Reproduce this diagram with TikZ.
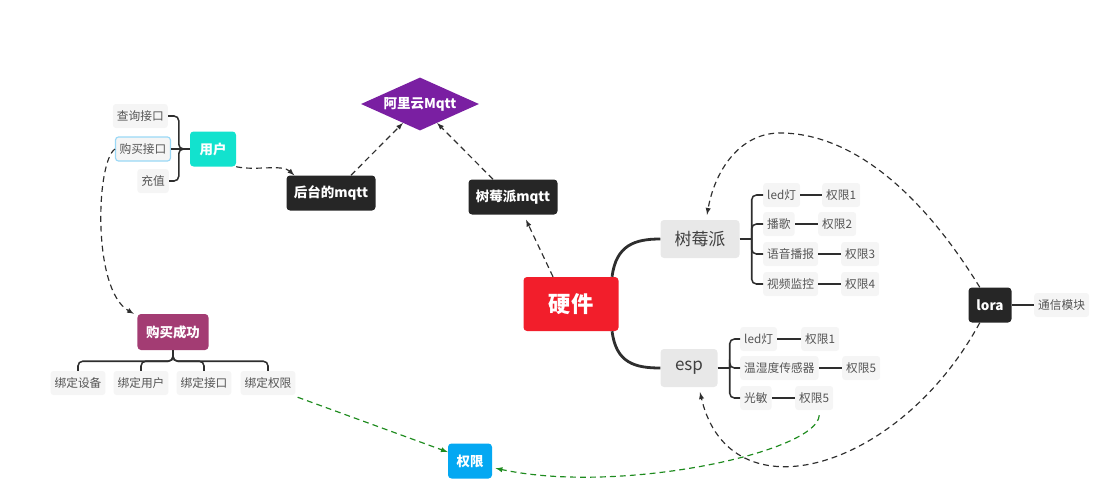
\documentclass[tikz,border=0pt]{standalone}
\usepackage{fontspec}
\setmainfont{Noto Sans CJK SC}
\usepackage{tikz}
\usepackage{xcolor}
\usetikzlibrary{shapes.geometric}

\definecolor{leafbg}{HTML}{F5F5F5}
\definecolor{leaftext}{HTML}{555555}
\definecolor{topicbg}{HTML}{E8E8E8}
\definecolor{topictext}{HTML}{404040}
\definecolor{darkbox}{HTML}{262626}
\definecolor{linedark}{HTML}{2E2E2E}
\definecolor{aliPurple}{HTML}{7A1FA2}
\definecolor{userTeal}{HTML}{12E2CE}
\definecolor{hwRed}{HTML}{F21E2B}
\definecolor{buyMauve}{HTML}{A33C73}
\definecolor{permBlue}{HTML}{04A8F2}
\definecolor{buyBorder}{HTML}{9AD8F6}
\definecolor{linkGreen}{HTML}{1E8B1E}

\tikzset{
  leaf/.style={fill=leafbg, text=leaftext, rounded corners=2.5pt, minimum height=0.72cm,
    inner xsep=0.12cm, font=\fontsize{10}{12}\selectfont},
  darkbox/.style={fill=darkbox, text=white, rounded corners=3pt, minimum width=2.67cm,
    minimum height=1.05cm, font=\fontsize{11.5}{13}\selectfont\bfseries},
  topic/.style={fill=topicbg, text=topictext, rounded corners=3pt, minimum height=1.14cm,
    font=\fontsize{14.5}{17}\selectfont},
  tag/.style={text=white, rounded corners=3pt, minimum height=1.05cm,
    font=\fontsize{11.5}{13}\selectfont\bfseries},
  branch/.style={draw=linedark, line width=1.3pt, rounded corners=4pt},
  trunk/.style={draw=linedark, line width=2.4pt},
  link/.style={draw=linedark, line width=1pt, dash pattern=on 5pt off 3.5pt, -latex},
  greenlink/.style={link, draw=linkGreen}
}

\begin{document}
\begin{tikzpicture}[x=0.03cm, y=-0.03cm]
\useasboundingbox (0,0) rectangle (1107,497);

% cloud and mqtt
\node[diamond, fill=aliPurple, text=white, aspect=2.2, inner sep=0pt, minimum width=3.54cm,
  minimum height=1.59cm, font=\fontsize{11.5}{13}\selectfont\bfseries] (ali) at (420,104) {阿里云Mqtt};
\node[darkbox] (backend) at (331,193) {后台的mqtt};
\node[darkbox] (pimqtt) at (513,197) {树莓派mqtt};

% user side
\node[tag, fill=userTeal, minimum width=1.38cm] (user) at (213,149) {用户};
\node[leaf, anchor=east] (query) at (168,116) {查询接口};
\node[leaf, anchor=east, draw=buyBorder, line width=1pt] (buy) at (171,149) {购买接口};
\node[leaf, anchor=east] (charge) at (169,181) {充值};

\node[tag, fill=buyMauve, minimum width=2.13cm, minimum height=1.08cm] (success) at (173,332) {购买成功};
\node[leaf] (bind1) at (78,383) {绑定设备};
\node[leaf] (bind2) at (141,383) {绑定用户};
\node[leaf] (bind3) at (204,383) {绑定接口};
\node[leaf] (bind4) at (268,383) {绑定权限};

\node[tag, fill=permBlue, minimum width=1.32cm] (perm) at (470,461) {权限};

% hardware
\node[tag, fill=hwRed, minimum width=2.85cm, minimum height=1.62cm,
  font=\fontsize{19}{22}\selectfont\bfseries] (hw) at (571,304) {硬件};
\node[topic, minimum width=2.37cm] (pi) at (700,239) {树莓派};
\node[topic, minimum width=1.71cm] (esp) at (689,368) {esp};

\node[leaf, anchor=west] (pled) at (763,195) {led灯};
\node[leaf, anchor=west] (psong) at (763,224) {播歌};
\node[leaf, anchor=west] (pvoice) at (763,254) {语音播报};
\node[leaf, anchor=west] (pvideo) at (763,284) {视频监控};
\node[leaf, anchor=west] (pq1) at (822,195) {权限1};
\node[leaf, anchor=west] (pq2) at (818,224) {权限2};
\node[leaf, anchor=west] (pq3) at (841,254) {权限3};
\node[leaf, anchor=west] (pq4) at (841,284) {权限4};

\node[leaf, anchor=west] (eled) at (740,339) {led灯};
\node[leaf, anchor=west] (esensor) at (740,368) {温湿度传感器};
\node[leaf, anchor=west] (elight) at (740,398) {光敏};
\node[leaf, anchor=west] (eq1) at (801,339) {权限1};
\node[leaf, anchor=west] (eq5) at (842,368) {权限5};
\node[leaf, anchor=west] (eq5b) at (795,398) {权限5};

\node[darkbox, minimum width=1.29cm] (lora) at (990,305) {lora};
\node[leaf, anchor=west] (comm) at (1034,305) {通信模块};

% tree lines
\draw[branch] (user.west) -- ++(-11,0) |- (query.east);
\draw[branch] (user.west) -- ++(-11,0) |- (charge.east);
\draw[branch] (buy.east) -- (user.west);

\draw[branch] (pi.east) -- ++(12,0) coordinate (pib);
\foreach \c in {pled,psong,pvoice,pvideo}
  \draw[branch] (pib) |- (\c.west);
\draw[branch] (esp.east) -- ++(12,0) coordinate (espb);
\foreach \c in {eled,esensor,elight}
  \draw[branch] (espb) |- (\c.west);

\draw[branch] (pled) -- (pq1);
\draw[branch] (psong) -- (pq2);
\draw[branch] (pvoice) -- (pq3);
\draw[branch] (pvideo) -- (pq4);
\draw[branch] (eled) -- (eq1);
\draw[branch] (esensor) -- (eq5);
\draw[branch] (elight) -- (eq5b);
\draw[branch] (lora) -- (comm);

\foreach \b in {bind1,bind2,bind3,bind4}
  \draw[branch] (success.south) -- ++(0,11) -| (\b.north);

\draw[trunk] ([xshift=-0.2cm]hw.north east) .. controls (616,245) and (635,239) .. (pi.west);
\draw[trunk] ([xshift=-0.2cm]hw.south east) .. controls (616,363) and (635,368) .. (esp.west);

% dashed links
\draw[link] (user.south east) .. controls (256,171) and (282,164) .. ([xshift=0.24cm]backend.north west);
\draw[link] ([xshift=0.6cm]backend.north) -- (ali.228);
\draw[link] ([xshift=-0.6cm]pimqtt.north) -- (ali.312);
\draw[link] ([xshift=-0.54cm]hw.north) -- ([xshift=0.39cm, yshift=-0.15cm]pimqtt.south);
\draw[link] (buy.west) .. controls (96,162) and (92,290) .. ([xshift=-0.1cm]success.north west);
\draw[link] (lora.120) .. controls (920,190) and (850,133) .. (780,133)
  .. controls (740,133) and (715,170) .. ([xshift=0.21cm, yshift=0.15cm]pi.north);
\draw[link] (lora.240) .. controls (900,470) and (730,520) .. ([xshift=0.33cm, yshift=-0.15cm]esp.south);
\draw[greenlink] ([xshift=0.06cm, yshift=-0.06cm]bind4.south east) -- (perm.158);
\draw[greenlink] ([xshift=0.15cm, yshift=-0.15cm]eq5b.south) .. controls (818,452) and (620,495) .. ([xshift=0.1cm]perm.-18);
\end{tikzpicture}
\end{document}
